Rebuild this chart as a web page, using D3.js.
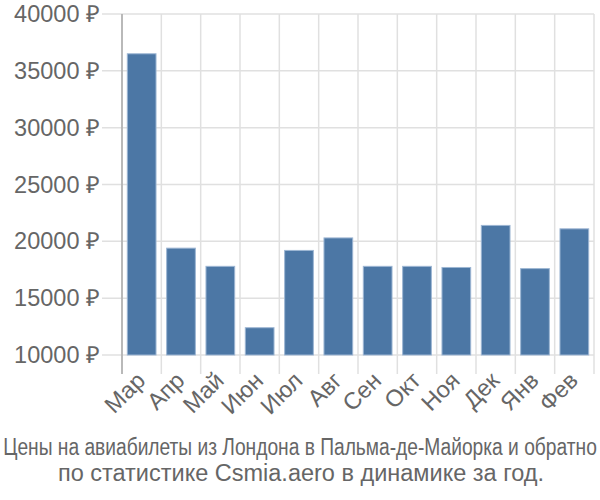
<!DOCTYPE html>
<html><head><meta charset="utf-8">
<script src="https://cdn.jsdelivr.net/npm/d3@7"></script>
<style>body{margin:0;background:#fff}svg{display:block}</style>
</head><body>
<svg id="c" width="600" height="500"></svg>
<script>
const months = ["Мар","Апр","Май","Июн","Июл","Авг","Сен","Окт","Ноя","Дек","Янв","Фев"];
const prices = [36500,19400,17800,12400,19200,20300,17800,17800,17700,21400,17600,21100];
const yTicks = [10000,15000,20000,25000,30000,35000,40000];
const titleLines = ["Цены на авиабилеты из Лондона в Пальма-де-Майорка и обратно","по статистике Csmia.aero в динамике за год."];

const svg = d3.select("#c");
const L = 122, R = 594, T = 14, B = 355;
const x = d3.scaleBand().domain(months).range([L, R]).paddingInner(0.27).paddingOuter(0.135);
const xg = d3.scaleBand().domain(months).range([L, R]);
const y = d3.scaleLinear().domain([10000, 40000]).range([B, T]);
const FONT = "Liberation Sans, Arial, sans-serif";

// horizontal grid
svg.append("g").selectAll("line").data(yTicks).join("line")
  .attr("x1", 102).attr("x2", R).attr("y1", d => y(d)).attr("y2", d => y(d))
  .attr("stroke", "#e0e0e0").attr("stroke-width", 1.5);
// vertical grid
const vx = months.map(m => xg(m)).concat([R]);
svg.append("g").selectAll("line").data(vx).join("line")
  .attr("x1", d => d).attr("x2", d => d).attr("y1", T).attr("y2", 374)
  .attr("stroke", "#e0e0e0").attr("stroke-width", 1.5);
// y axis line
svg.append("line").attr("x1", L).attr("x2", L).attr("y1", T).attr("y2", 374)
  .attr("stroke", "#aaaaaa").attr("stroke-width", 1.5);

// bars
svg.append("g").selectAll("rect").data(prices).join("rect")
  .attr("x", (d, i) => x(months[i])).attr("width", x.bandwidth())
  .attr("y", d => y(d)).attr("height", d => y(10000) - y(d))
  .attr("fill", "#4c77a5").attr("stroke", "#9db6d3").attr("stroke-width", 1);

// y labels
svg.append("g").selectAll("text").data(yTicks).join("text")
  .attr("x", 100).attr("y", d => y(d) + 8).attr("text-anchor", "end")
  .attr("font-family", FONT).attr("font-size", 23.5)
  .attr("fill", "#666").text(d => d + " ₽");

// x labels
svg.append("g").selectAll("text").data(months).join("text")
  .attr("transform", m => `translate(${xg(m) + xg.bandwidth()/2 + 5},${382}) rotate(-45)`)
  .attr("text-anchor", "end")
  .attr("font-family", FONT).attr("font-size", 23.5)
  .attr("fill", "#666").text(m => m);

// title line 1: condensed horizontally to fit the width
const t1 = svg.append("text").attr("x", 0).attr("y", 0).attr("text-anchor", "middle")
  .attr("font-family", FONT).attr("font-size", 23)
  .attr("fill", "#666").text(titleLines[0]);
const natural = t1.node().getComputedTextLength();
const sx = Math.min(1, 594 / natural);
t1.attr("transform", `translate(300,455) scale(${sx},1)`);

svg.append("text").attr("x", 301).attr("y", 481).attr("text-anchor", "middle")
  .attr("font-family", FONT).attr("font-size", 23.5)
  .attr("fill", "#666").text(titleLines[1]);
</script>
</body></html>
